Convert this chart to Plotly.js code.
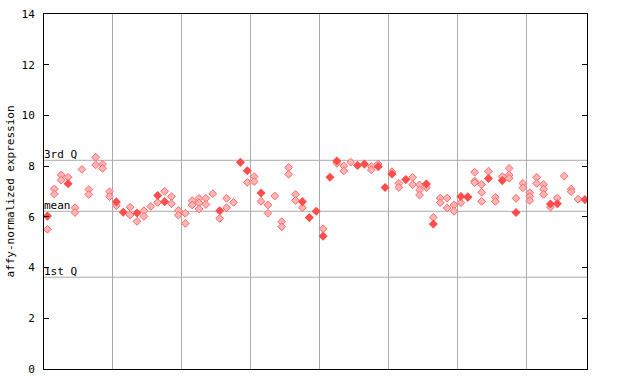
<!DOCTYPE html>
<html>
<head>
<meta charset="utf-8">
<script src="https://cdn.plot.ly/plotly-3.0.1.min.js"></script>
<style>html,body{margin:0;padding:0;background:#fff;}#chart{width:640px;height:384px;}</style>
</head>
<body>
<div id="chart"></div>
<script>
// Solid (filled) points: sample index and expression value
const solidX = [1, 4, 11, 12, 14, 17, 18, 26, 29, 30, 32, 38, 39, 40, 41, 42, 43, 46, 47, 49, 50, 51, 53, 56, 57, 61, 62, 65, 67, 69, 74, 75, 79];
const solidY = [6.03, 7.31, 6.59, 6.18, 6.15, 6.84, 6.60, 6.24, 8.15, 7.82, 6.94, 6.60, 5.97, 6.22, 5.24, 7.56, 8.20, 8.03, 8.08, 7.98, 7.16, 7.69, 7.47, 7.30, 5.72, 6.80, 6.77, 7.51, 7.43, 6.17, 6.51, 6.52, 6.68];

// Hatched (lighter) points
const hatchX = [1, 2, 2, 3, 3, 4, 5, 5, 6, 7, 7, 8, 8, 9, 9, 10, 10, 11, 13, 13, 14, 15, 15, 16, 17, 18, 19, 19, 20, 20,
  21, 21, 22, 22, 23, 23, 23, 24, 24, 25, 26, 27, 27, 28, 30, 31, 31, 32, 33, 33, 34, 35, 35, 36, 36, 37, 37, 38,
  41, 43, 44, 44, 45, 48, 48, 49, 51, 52, 52, 54, 54, 55, 55, 55, 56, 57, 58, 58, 59, 59, 60, 60, 61, 62,
  63, 63, 63, 64, 64, 64, 65, 66, 66, 67, 68, 68, 68, 69, 70, 70, 71, 71, 71, 72, 72, 73, 73, 73, 74, 75, 76, 77, 77, 78];
const hatchY = [5.51, 7.10, 6.90, 7.65, 7.45, 7.56, 6.36, 6.17, 7.87, 7.08, 6.88, 8.35, 8.05, 8.08, 7.91, 6.99, 6.80, 6.44, 6.38, 6.07, 5.82, 6.24, 6.02, 6.41, 6.57, 7.01, 6.80, 6.52, 6.25, 6.07,
  6.14, 5.74, 6.64, 6.47, 6.73, 6.55, 6.31, 6.73, 6.49, 6.91, 5.94, 6.73, 6.36, 6.57, 7.36, 7.59, 7.39, 6.61, 6.47, 6.14, 6.82, 5.81, 5.61, 7.95, 7.68, 6.89, 6.65, 6.36,
  5.53, 8.11, 8.01, 7.81, 8.16, 7.98, 7.85, 8.08, 7.78, 7.32, 7.16, 7.56, 7.27, 7.26, 7.06, 6.86, 7.16, 5.98, 6.74, 6.56, 6.74, 6.35, 6.47, 6.22, 6.56, 6.80,
  7.76, 7.41, 7.35, 7.28, 6.97, 6.61, 7.80, 6.77, 6.61, 7.59, 7.91, 7.65, 7.52, 6.73, 7.32, 7.15, 6.95, 6.80, 6.64, 7.56, 7.32, 7.28, 7.09, 6.89, 6.38, 6.74, 7.61, 7.09, 6.99, 6.70];

// Group separators (between sample groups)
const groupBreaks = [10.5, 20.5, 30.5, 40.5, 50.5, 60.5, 70.5];

// Reference lines
const refLabels = ['3rd Q', 'mean', '1st Q'];
const refValues = [8.23, 6.22, 3.62];

const yTicks = [0, 2, 4, 6, 8, 10, 12, 14];

const mono = 'DejaVu Sans Mono, monospace';

const traces = [
  {
    type: 'scatter', mode: 'markers', x: hatchX, y: hatchY, hoverinfo: 'skip',
    marker: {symbol: 'diamond', size: 6, color: '#ffb4b4', line: {color: '#ff6a6a', width: 1}}
  },
  {
    type: 'scatter', mode: 'markers', x: solidX, y: solidY, hoverinfo: 'skip',
    marker: {symbol: 'diamond', size: 7, color: '#ff4d4d', line: {width: 0}}
  }
];

const shapes = refValues.map(v => ({
  type: 'line', xref: 'paper', yref: 'y', x0: 0, x1: 1, y0: v, y1: v,
  line: {color: '#aaaaaa', width: 1}, layer: 'below'
}));

const annotations = refLabels.map((t, i) => ({
  text: t, xref: 'paper', yref: 'y', x: 0, y: refValues[i], xanchor: 'left', yanchor: 'bottom',
  showarrow: false, font: {family: mono, size: 11, color: '#000'}, xshift: -2, yshift: -3
}));

const layout = {
  width: 640, height: 384,
  margin: {l: 44, r: 53, t: 14, b: 15},
  paper_bgcolor: '#fff', plot_bgcolor: '#fff',
  showlegend: false,
  font: {family: mono, size: 11, color: '#000'},
  xaxis: {
    range: [0.5, 79.3], tickvals: groupBreaks, showticklabels: false, ticks: '',
    showgrid: true, gridcolor: '#aaaaaa', gridwidth: 1, zeroline: false,
    showline: true, linecolor: '#000', linewidth: 1, mirror: true
  },
  yaxis: {
    range: [0, 14], tickvals: yTicks, ticktext: yTicks.map(String), ticks: 'inside', ticklen: 5, tickcolor: '#000',
    showgrid: false, zeroline: false, showline: true, linecolor: '#000', linewidth: 1, mirror: 'ticks',
    tickfont: {family: mono, size: 11}, ticklabelstandoff: 6,
    title: {text: 'affy-normalized expression', font: {family: mono, size: 11}, standoff: 4}
  },
  shapes: shapes,
  annotations: annotations
};

Plotly.newPlot('chart', traces, layout, {staticPlot: true, displayModeBar: false});
</script>
</body>
</html>
